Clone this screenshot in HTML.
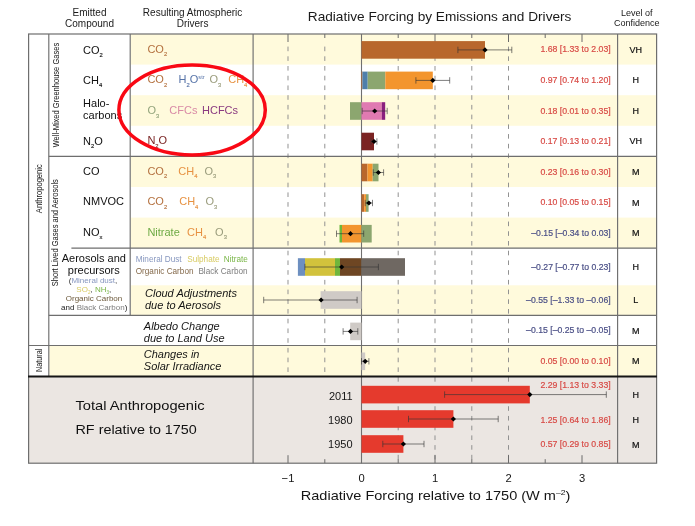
<!DOCTYPE html>
<html><head><meta charset="utf-8"><title>Radiative Forcing by Emissions and Drivers</title>
<style>
html,body{margin:0;padding:0;background:#fff;}
body{width:695px;height:526px;overflow:hidden;font-family:"Liberation Sans",sans-serif;}
svg{display:block;font-family:"Liberation Sans",sans-serif;will-change:transform;filter:blur(0.35px);}
</style></head><body>
<svg width="695" height="526" viewBox="0 0 695 526">
<rect x="0" y="0" width="695" height="526" fill="#ffffff"/>
<rect x="130.7" y="34.0" width="525.9000000000001" height="30.599999999999994" fill="#fffadc"/>
<rect x="130.7" y="95.2" width="525.9000000000001" height="30.599999999999994" fill="#fffadc"/>
<rect x="130.7" y="156.4" width="525.9000000000001" height="30.599999999999994" fill="#fffadc"/>
<rect x="130.7" y="217.6" width="525.9000000000001" height="30.5" fill="#fffadc"/>
<rect x="130.7" y="285.3" width="525.9000000000001" height="30.0" fill="#fffadc"/>
<rect x="49.3" y="345.5" width="607.3000000000001" height="30.69999999999999" fill="#fffadc"/>
<rect x="28.6" y="376.2" width="628.0" height="87.0" fill="#ebe6e2"/>
<line x1="288.0" y1="46.6" x2="288.0" y2="376.2" stroke="#8c8c8c" stroke-width="0.95" stroke-dasharray="4.6 5.12"/>
<line x1="324.8" y1="46.6" x2="324.8" y2="376.2" stroke="#8c8c8c" stroke-width="0.95" stroke-dasharray="4.6 5.12"/>
<line x1="398.2" y1="46.6" x2="398.2" y2="463.2" stroke="#8c8c8c" stroke-width="0.95" stroke-dasharray="4.6 5.12"/>
<line x1="435.0" y1="46.6" x2="435.0" y2="463.2" stroke="#8c8c8c" stroke-width="0.95" stroke-dasharray="4.6 5.12"/>
<line x1="471.8" y1="46.6" x2="471.8" y2="463.2" stroke="#8c8c8c" stroke-width="0.95" stroke-dasharray="4.6 5.12"/>
<line x1="508.5" y1="46.6" x2="508.5" y2="463.2" stroke="#8c8c8c" stroke-width="0.95" stroke-dasharray="4.6 5.12"/>
<line x1="288.0" y1="34.0" x2="288.0" y2="42.0" stroke="#6a6a6a" stroke-width="1"/>
<line x1="288.0" y1="455.2" x2="288.0" y2="463.2" stroke="#6a6a6a" stroke-width="1"/>
<line x1="324.8" y1="34.0" x2="324.8" y2="38.0" stroke="#6a6a6a" stroke-width="1"/>
<line x1="324.8" y1="459.2" x2="324.8" y2="463.2" stroke="#6a6a6a" stroke-width="1"/>
<line x1="361.5" y1="34.0" x2="361.5" y2="42.0" stroke="#6a6a6a" stroke-width="1"/>
<line x1="361.5" y1="455.2" x2="361.5" y2="463.2" stroke="#6a6a6a" stroke-width="1"/>
<line x1="398.2" y1="34.0" x2="398.2" y2="38.0" stroke="#6a6a6a" stroke-width="1"/>
<line x1="398.2" y1="459.2" x2="398.2" y2="463.2" stroke="#6a6a6a" stroke-width="1"/>
<line x1="435.0" y1="34.0" x2="435.0" y2="42.0" stroke="#6a6a6a" stroke-width="1"/>
<line x1="435.0" y1="455.2" x2="435.0" y2="463.2" stroke="#6a6a6a" stroke-width="1"/>
<line x1="471.8" y1="34.0" x2="471.8" y2="38.0" stroke="#6a6a6a" stroke-width="1"/>
<line x1="471.8" y1="459.2" x2="471.8" y2="463.2" stroke="#6a6a6a" stroke-width="1"/>
<line x1="508.5" y1="34.0" x2="508.5" y2="42.0" stroke="#6a6a6a" stroke-width="1"/>
<line x1="508.5" y1="455.2" x2="508.5" y2="463.2" stroke="#6a6a6a" stroke-width="1"/>
<line x1="545.2" y1="34.0" x2="545.2" y2="38.0" stroke="#6a6a6a" stroke-width="1"/>
<line x1="545.2" y1="459.2" x2="545.2" y2="463.2" stroke="#6a6a6a" stroke-width="1"/>
<line x1="582.0" y1="34.0" x2="582.0" y2="42.0" stroke="#6a6a6a" stroke-width="1"/>
<line x1="582.0" y1="455.2" x2="582.0" y2="463.2" stroke="#6a6a6a" stroke-width="1"/>
<line x1="361.5" y1="34.0" x2="361.5" y2="463.2" stroke="#707070" stroke-width="1.1"/>
<rect x="361.5" y="41.1" width="123.5" height="17.6" fill="#b8672c"/>
<rect x="361.5" y="71.6" width="0.9" height="17.6" fill="#b8672c"/>
<rect x="362.4" y="71.6" width="5.3" height="17.6" fill="#4e7fab"/>
<rect x="367.7" y="71.6" width="17.6" height="17.6" fill="#8ca66f"/>
<rect x="385.3" y="71.6" width="47.5" height="17.6" fill="#f3952e"/>
<rect x="350.0" y="102.2" width="11.5" height="17.6" fill="#8ca66f"/>
<rect x="361.5" y="102.2" width="20.3" height="17.6" fill="#e07ab2"/>
<rect x="381.8" y="102.2" width="3.4" height="17.6" fill="#8a1f7e"/>
<rect x="361.5" y="132.7" width="12.5" height="17.6" fill="#7b2322"/>
<rect x="361.5" y="163.7" width="6.0" height="17.6" fill="#b8672c"/>
<rect x="367.5" y="163.7" width="5.2" height="17.6" fill="#f3952e"/>
<rect x="372.7" y="163.7" width="5.8" height="17.6" fill="#8ca66f"/>
<rect x="361.5" y="194.2" width="2.7" height="17.6" fill="#b8672c"/>
<rect x="364.2" y="194.2" width="1.8" height="17.6" fill="#f3952e"/>
<rect x="366.0" y="194.2" width="2.6" height="17.6" fill="#8ca66f"/>
<rect x="339.5" y="224.9" width="2.5" height="17.6" fill="#6fb63c"/>
<rect x="342.0" y="224.9" width="19.5" height="17.6" fill="#f3952e"/>
<rect x="361.5" y="224.9" width="10.2" height="17.6" fill="#8ca66f"/>
<rect x="297.9" y="258.2" width="7.1" height="17.6" fill="#6d8fc0"/>
<rect x="305.0" y="258.2" width="30.0" height="17.6" fill="#d2c23c"/>
<rect x="335.0" y="258.2" width="5.0" height="17.6" fill="#6fb63c"/>
<rect x="340.0" y="258.2" width="21.5" height="17.6" fill="#6e4623"/>
<rect x="361.5" y="258.2" width="43.5" height="17.6" fill="#6f6862"/>
<rect x="320.6" y="291.2" width="40.9" height="17.6" fill="#cfcac6"/>
<rect x="350.2" y="322.6" width="11.3" height="17.6" fill="#cfcac6"/>
<rect x="361.5" y="352.5" width="3.7" height="17.6" fill="#cfcac6"/>
<rect x="361.5" y="385.8" width="168.3" height="17.6" fill="#e53a2d"/>
<rect x="361.5" y="410.2" width="91.9" height="17.6" fill="#e53a2d"/>
<rect x="361.5" y="435.2" width="41.9" height="17.6" fill="#e53a2d"/>
<line x1="48.8" y1="34.0" x2="48.8" y2="376.2" stroke="#6e6e6e" stroke-width="1.15"/>
<line x1="130.2" y1="34.0" x2="130.2" y2="315.3" stroke="#6e6e6e" stroke-width="1.15"/>
<line x1="253.1" y1="34.0" x2="253.1" y2="463.2" stroke="#6e6e6e" stroke-width="1.15"/>
<line x1="617.6" y1="34.0" x2="617.6" y2="463.2" stroke="#6e6e6e" stroke-width="1.15"/>
<line x1="48.8" y1="156.4" x2="656.6" y2="156.4" stroke="#6e6e6e" stroke-width="1.15"/>
<line x1="71.4" y1="248.1" x2="656.6" y2="248.1" stroke="#6e6e6e" stroke-width="1.15"/>
<line x1="48.8" y1="315.3" x2="656.6" y2="315.3" stroke="#6e6e6e" stroke-width="1.15"/>
<line x1="28.6" y1="345.5" x2="656.6" y2="345.5" stroke="#6e6e6e" stroke-width="1.15"/>
<rect x="28.6" y="34.0" width="628.0" height="429.2" fill="none" stroke="#6e6e6e" stroke-width="1.2"/>
<line x1="28.0" y1="376.5" x2="656.9" y2="376.5" stroke="#151515" stroke-width="2.0"/>
<g stroke="#333" stroke-opacity="0.7" stroke-width="0.9" fill="none"><line x1="457.9" y1="49.9" x2="511.8" y2="49.9"/><line x1="457.9" y1="46.699999999999996" x2="457.9" y2="53.1"/><line x1="511.8" y1="46.699999999999996" x2="511.8" y2="53.1"/></g>
<path d="M482.4 49.9 L485.0 47.3 L487.6 49.9 L485.0 52.5Z" fill="#000"/>
<g stroke="#333" stroke-opacity="0.7" stroke-width="0.9" fill="none"><line x1="415.9" y1="80.4" x2="449.7" y2="80.4"/><line x1="415.9" y1="77.2" x2="415.9" y2="83.60000000000001"/><line x1="449.7" y1="77.2" x2="449.7" y2="83.60000000000001"/></g>
<path d="M430.2 80.4 L432.8 77.80000000000001 L435.4 80.4 L432.8 83.0Z" fill="#000"/>
<g stroke="#333" stroke-opacity="0.7" stroke-width="0.9" fill="none"><line x1="362.2" y1="111.0" x2="387.2" y2="111.0"/><line x1="362.2" y1="107.8" x2="362.2" y2="114.2"/><line x1="387.2" y1="107.8" x2="387.2" y2="114.2"/></g>
<path d="M372.1 111.0 L374.7 108.4 L377.3 111.0 L374.7 113.6Z" fill="#000"/>
<g stroke="#333" stroke-opacity="0.7" stroke-width="0.9" fill="none"><line x1="371.1" y1="141.5" x2="376.9" y2="141.5"/><line x1="371.1" y1="138.3" x2="371.1" y2="144.7"/><line x1="376.9" y1="138.3" x2="376.9" y2="144.7"/></g>
<path d="M371.4 141.5 L374.0 138.9 L376.6 141.5 L374.0 144.1Z" fill="#000"/>
<g stroke="#333" stroke-opacity="0.7" stroke-width="0.9" fill="none"><line x1="373.3" y1="172.5" x2="383.6" y2="172.5"/><line x1="373.3" y1="169.3" x2="373.3" y2="175.7"/><line x1="383.6" y1="169.3" x2="383.6" y2="175.7"/></g>
<path d="M375.8 172.5 L378.4 169.9 L381.0 172.5 L378.4 175.1Z" fill="#000"/>
<g stroke="#333" stroke-opacity="0.7" stroke-width="0.9" fill="none"><line x1="365.2" y1="203.0" x2="372.5" y2="203.0"/><line x1="365.2" y1="199.8" x2="365.2" y2="206.2"/><line x1="372.5" y1="199.8" x2="372.5" y2="206.2"/></g>
<path d="M366.2 203.0 L368.9 200.4 L371.5 203.0 L368.9 205.6Z" fill="#000"/>
<g stroke="#333" stroke-opacity="0.7" stroke-width="0.9" fill="none"><line x1="336.5" y1="233.7" x2="363.7" y2="233.7"/><line x1="336.5" y1="230.5" x2="336.5" y2="236.89999999999998"/><line x1="363.7" y1="230.5" x2="363.7" y2="236.89999999999998"/></g>
<path d="M347.9 233.7 L350.5 231.1 L353.1 233.7 L350.5 236.29999999999998Z" fill="#000"/>
<g stroke="#333" stroke-opacity="0.7" stroke-width="0.9" fill="none"><line x1="304.9" y1="267.0" x2="378.4" y2="267.0"/><line x1="304.9" y1="263.8" x2="304.9" y2="270.2"/><line x1="378.4" y1="263.8" x2="378.4" y2="270.2"/></g>
<path d="M339.1 267.0 L341.7 264.4 L344.3 267.0 L341.7 269.6Z" fill="#000"/>
<g stroke="#333" stroke-opacity="0.7" stroke-width="0.9" fill="none"><line x1="263.7" y1="300.0" x2="357.1" y2="300.0"/><line x1="263.7" y1="296.8" x2="263.7" y2="303.2"/><line x1="357.1" y1="296.8" x2="357.1" y2="303.2"/></g>
<path d="M318.5 300.0 L321.1 297.4 L323.7 300.0 L321.1 302.6Z" fill="#000"/>
<g stroke="#333" stroke-opacity="0.7" stroke-width="0.9" fill="none"><line x1="343.1" y1="331.4" x2="357.8" y2="331.4"/><line x1="343.1" y1="328.2" x2="343.1" y2="334.59999999999997"/><line x1="357.8" y1="328.2" x2="357.8" y2="334.59999999999997"/></g>
<path d="M347.9 331.4 L350.5 328.79999999999995 L353.1 331.4 L350.5 334.0Z" fill="#000"/>
<g stroke="#333" stroke-opacity="0.7" stroke-width="0.9" fill="none"><line x1="361.5" y1="361.3" x2="368.9" y2="361.3"/><line x1="361.5" y1="358.1" x2="361.5" y2="364.5"/><line x1="368.9" y1="358.1" x2="368.9" y2="364.5"/></g>
<path d="M362.6 361.3 L365.2 358.7 L367.8 361.3 L365.2 363.90000000000003Z" fill="#000"/>
<g stroke="#333" stroke-opacity="0.7" stroke-width="0.9" fill="none"><line x1="444.6" y1="394.6" x2="606.3" y2="394.6"/><line x1="444.6" y1="391.40000000000003" x2="444.6" y2="397.8"/><line x1="606.3" y1="391.40000000000003" x2="606.3" y2="397.8"/></g>
<path d="M527.2 394.6 L529.8 392.0 L532.4 394.6 L529.8 397.20000000000005Z" fill="#000"/>
<g stroke="#333" stroke-opacity="0.7" stroke-width="0.9" fill="none"><line x1="408.5" y1="419.0" x2="498.2" y2="419.0"/><line x1="408.5" y1="415.8" x2="408.5" y2="422.2"/><line x1="498.2" y1="415.8" x2="498.2" y2="422.2"/></g>
<path d="M450.8 419.0 L453.4 416.4 L456.0 419.0 L453.4 421.6Z" fill="#000"/>
<g stroke="#333" stroke-opacity="0.7" stroke-width="0.9" fill="none"><line x1="382.8" y1="444.0" x2="424.0" y2="444.0"/><line x1="382.8" y1="440.8" x2="382.8" y2="447.2"/><line x1="424.0" y1="440.8" x2="424.0" y2="447.2"/></g>
<path d="M400.8 444.0 L403.4 441.4 L406.0 444.0 L403.4 446.6Z" fill="#000"/>
<text x="89.5" y="16.2" font-size="10" fill="#1a1a1a" text-anchor="middle" stroke="#1a1a1a" stroke-width="0" >Emitted</text>
<text x="89.5" y="26.9" font-size="10" fill="#1a1a1a" text-anchor="middle" stroke="#1a1a1a" stroke-width="0" >Compound</text>
<text x="192.6" y="16.2" font-size="10" fill="#1a1a1a" text-anchor="middle" stroke="#1a1a1a" stroke-width="0" >Resulting Atmospheric</text>
<text x="192.6" y="26.9" font-size="10" fill="#1a1a1a" text-anchor="middle" stroke="#1a1a1a" stroke-width="0" >Drivers</text>
<text x="439.6" y="21.4" font-size="13.4" fill="#1a1a1a" text-anchor="middle" stroke="#1a1a1a" stroke-width="0" textLength="263.6" lengthAdjust="spacingAndGlyphs">Radiative Forcing by Emissions and Drivers</text>
<text x="636.7" y="15.8" font-size="9" fill="#1a1a1a" text-anchor="middle" stroke="#1a1a1a" stroke-width="0" >Level of</text>
<text x="636.7" y="25.9" font-size="9" fill="#1a1a1a" text-anchor="middle" stroke="#1a1a1a" stroke-width="0" >Confidence</text>
<text x="83.1" y="53.7" font-size="11" fill="#111" text-anchor="start" stroke="#111" stroke-width="0" >CO<tspan font-size="5.8" dy="3.2" stroke-width="0.15">2</tspan><tspan dy="-3.2" font-size="1">&#8203;</tspan></text>
<text x="83.1" y="84.2" font-size="11" fill="#111" text-anchor="start" stroke="#111" stroke-width="0" >CH<tspan font-size="5.8" dy="3.2" stroke-width="0.15">4</tspan><tspan dy="-3.2" font-size="1">&#8203;</tspan></text>
<text x="83.1" y="107.4" font-size="11" fill="#111" text-anchor="start" stroke="#111" stroke-width="0" >Halo-</text>
<text x="83.1" y="119.4" font-size="11" fill="#111" text-anchor="start" stroke="#111" stroke-width="0" >carbons</text>
<text x="83.1" y="145.0" font-size="11" fill="#111" text-anchor="start" stroke="#111" stroke-width="0" >N<tspan font-size="5.8" dy="3.2" stroke-width="0.15">2</tspan><tspan dy="-3.2" font-size="1">&#8203;</tspan>O</text>
<text x="83.1" y="174.7" font-size="11" fill="#111" text-anchor="start" stroke="#111" stroke-width="0" >CO</text>
<text x="83.1" y="205.1" font-size="11" fill="#111" text-anchor="start" stroke="#111" stroke-width="0" >NMVOC</text>
<text x="83.1" y="235.7" font-size="11" fill="#111" text-anchor="start" stroke="#111" stroke-width="0" >NO<tspan font-size="5.8" dy="3.2" stroke-width="0.15">x</tspan><tspan dy="-3.2" font-size="1">&#8203;</tspan></text>
<text x="147.4" y="52.9" font-size="11" fill="#b4713f" text-anchor="start" stroke="#b4713f" stroke-width="0" >CO<tspan font-size="5.8" dy="3.2" stroke-width="0.15">2</tspan><tspan dy="-3.2" font-size="1">&#8203;</tspan></text>
<text x="147.4" y="83.4" font-size="11" fill="#b4713f" text-anchor="start" stroke="#b4713f" stroke-width="0" >CO<tspan font-size="5.8" dy="3.2" stroke-width="0.15">2</tspan><tspan dy="-3.2" font-size="1">&#8203;</tspan></text>
<text x="178.6" y="83.4" font-size="11" fill="#5673a8" text-anchor="start" stroke="#5673a8" stroke-width="0" >H<tspan font-size="5.8" dy="3.2" stroke-width="0.15">2</tspan><tspan dy="-3.2" font-size="1">&#8203;</tspan>O<tspan font-size="5.6" dy="-4">str</tspan><tspan dy="4" font-size="1">&#8203;</tspan></text>
<text x="209.5" y="83.4" font-size="11" fill="#9a9c7c" text-anchor="start" stroke="#9a9c7c" stroke-width="0" >O<tspan font-size="5.8" dy="3.2" stroke-width="0.15">3</tspan><tspan dy="-3.2" font-size="1">&#8203;</tspan></text>
<text x="228.2" y="83.4" font-size="11" fill="#e79242" text-anchor="start" stroke="#e79242" stroke-width="0" >CH<tspan font-size="5.8" dy="3.2" stroke-width="0.15">4</tspan><tspan dy="-3.2" font-size="1">&#8203;</tspan></text>
<text x="147.4" y="114.3" font-size="11" fill="#93a47c" text-anchor="start" stroke="#93a47c" stroke-width="0" >O<tspan font-size="5.8" dy="3.2" stroke-width="0.15">3</tspan><tspan dy="-3.2" font-size="1">&#8203;</tspan></text>
<text x="169.3" y="114.3" font-size="11" fill="#d98aa6" text-anchor="start" stroke="#d98aa6" stroke-width="0" >CFCs</text>
<text x="202.0" y="114.3" font-size="11" fill="#8a3a80" text-anchor="start" stroke="#8a3a80" stroke-width="0" >HCFCs</text>
<text x="147.4" y="144.4" font-size="11" fill="#7a2424" text-anchor="start" stroke="#7a2424" stroke-width="0" >N<tspan font-size="5.8" dy="3.2" stroke-width="0.15">2</tspan><tspan dy="-3.2" font-size="1">&#8203;</tspan>O</text>
<text x="147.4" y="175.0" font-size="11" fill="#b4713f" text-anchor="start" stroke="#b4713f" stroke-width="0" >CO<tspan font-size="5.8" dy="3.2" stroke-width="0.15">2</tspan><tspan dy="-3.2" font-size="1">&#8203;</tspan></text>
<text x="178.3" y="175.0" font-size="11" fill="#e79242" text-anchor="start" stroke="#e79242" stroke-width="0" >CH<tspan font-size="5.8" dy="3.2" stroke-width="0.15">4</tspan><tspan dy="-3.2" font-size="1">&#8203;</tspan></text>
<text x="204.4" y="175.0" font-size="11" fill="#9a9c7c" text-anchor="start" stroke="#9a9c7c" stroke-width="0" >O<tspan font-size="5.8" dy="3.2" stroke-width="0.15">3</tspan><tspan dy="-3.2" font-size="1">&#8203;</tspan></text>
<text x="147.4" y="205.4" font-size="11" fill="#b4713f" text-anchor="start" stroke="#b4713f" stroke-width="0" >CO<tspan font-size="5.8" dy="3.2" stroke-width="0.15">2</tspan><tspan dy="-3.2" font-size="1">&#8203;</tspan></text>
<text x="179.2" y="205.4" font-size="11" fill="#e79242" text-anchor="start" stroke="#e79242" stroke-width="0" >CH<tspan font-size="5.8" dy="3.2" stroke-width="0.15">4</tspan><tspan dy="-3.2" font-size="1">&#8203;</tspan></text>
<text x="205.4" y="205.4" font-size="11" fill="#9a9c7c" text-anchor="start" stroke="#9a9c7c" stroke-width="0" >O<tspan font-size="5.8" dy="3.2" stroke-width="0.15">3</tspan><tspan dy="-3.2" font-size="1">&#8203;</tspan></text>
<text x="147.4" y="235.9" font-size="11" fill="#6eaa44" text-anchor="start" stroke="#6eaa44" stroke-width="0" >Nitrate</text>
<text x="187.0" y="235.9" font-size="11" fill="#e79242" text-anchor="start" stroke="#e79242" stroke-width="0" >CH<tspan font-size="5.8" dy="3.2" stroke-width="0.15">4</tspan><tspan dy="-3.2" font-size="1">&#8203;</tspan></text>
<text x="215.1" y="235.9" font-size="11" fill="#9a9c7c" text-anchor="start" stroke="#9a9c7c" stroke-width="0" >O<tspan font-size="5.8" dy="3.2" stroke-width="0.15">3</tspan><tspan dy="-3.2" font-size="1">&#8203;</tspan></text>
<text x="135.7" y="262.1" font-size="8.2" fill="#8797bf" text-anchor="start" stroke="#8797bf" stroke-width="0" >Mineral Dust</text>
<text x="187.2" y="262.1" font-size="8.2" fill="#d8cb62" text-anchor="start" stroke="#d8cb62" stroke-width="0" >Sulphate</text>
<text x="223.7" y="262.1" font-size="8.2" fill="#7ab648" text-anchor="start" stroke="#7ab648" stroke-width="0" >Nitrate</text>
<text x="135.7" y="273.7" font-size="8.2" fill="#84694a" text-anchor="start" stroke="#84694a" stroke-width="0" >Organic Carbon</text>
<text x="198.4" y="273.7" font-size="8.2" fill="#7d7d7d" text-anchor="start" stroke="#7d7d7d" stroke-width="0" >Black Carbon</text>
<text x="145.0" y="296.6" font-size="11" fill="#151515" text-anchor="start" stroke="#151515" stroke-width="0" font-style="italic">Cloud Adjustments</text>
<text x="145.0" y="308.6" font-size="11" fill="#151515" text-anchor="start" stroke="#151515" stroke-width="0" font-style="italic">due to Aerosols</text>
<text x="143.8" y="329.5" font-size="11" fill="#151515" text-anchor="start" stroke="#151515" stroke-width="0" font-style="italic">Albedo Change</text>
<text x="143.8" y="341.6" font-size="11" fill="#151515" text-anchor="start" stroke="#151515" stroke-width="0" font-style="italic">due to Land Use</text>
<text x="143.8" y="358.3" font-size="11" fill="#151515" text-anchor="start" stroke="#151515" stroke-width="0" font-style="italic">Changes in</text>
<text x="143.8" y="370.3" font-size="11" fill="#151515" text-anchor="start" stroke="#151515" stroke-width="0" font-style="italic">Solar Irradiance</text>
<text x="93.8" y="262.4" font-size="11" fill="#111" text-anchor="middle" stroke="#111" stroke-width="0" >Aerosols and</text>
<text x="93.8" y="274.2" font-size="11" fill="#111" text-anchor="middle" stroke="#111" stroke-width="0" >precursors</text>
<text x="93.0" y="282.8" font-size="8" text-anchor="middle" fill="#333">(<tspan fill="#8797bf">Mineral dust</tspan>,</text>
<text x="93.8" y="291.8" font-size="8" text-anchor="middle" fill="#333"><tspan fill="#d8cb62">SO<tspan font-size="4.6" dy="2.0" stroke-width="0.15">2</tspan><tspan dy="-2.0" font-size="1">&#8203;</tspan></tspan>, <tspan fill="#7ab648">NH<tspan font-size="4.6" dy="2.0" stroke-width="0.15">3</tspan><tspan dy="-2.0" font-size="1">&#8203;</tspan></tspan>,</text>
<text x="94.0" y="300.6" font-size="8" fill="#6b583a" text-anchor="middle" stroke="#6b583a" stroke-width="0" >Organic Carbon</text>
<text x="94.2" y="309.5" font-size="8" text-anchor="middle" fill="#222">and <tspan fill="#7d7d7d">Black Carbon</tspan>)</text>
<text transform="translate(58.5,95.1) rotate(-90)" font-size="8.4" text-anchor="middle" fill="#151515" textLength="104.5" lengthAdjust="spacingAndGlyphs">Well-Mixed Greenhouse Gases</text>
<text transform="translate(58.4,232.7) rotate(-90)" font-size="8.4" text-anchor="middle" fill="#151515" textLength="107" lengthAdjust="spacingAndGlyphs">Short Lived Gases and Aerosols</text>
<text transform="translate(42.2,188.7) rotate(-90)" font-size="8.2" text-anchor="middle" fill="#151515" textLength="48.9" lengthAdjust="spacingAndGlyphs">Anthropogenic</text>
<text transform="translate(41.8,360.3) rotate(-90)" font-size="8.2" text-anchor="middle" fill="#151515" textLength="23.2" lengthAdjust="spacingAndGlyphs">Natural</text>
<text x="75.5" y="410.1" font-size="13.5" fill="#111" text-anchor="start" stroke="#111" stroke-width="0" textLength="129" lengthAdjust="spacingAndGlyphs">Total Anthropogenic</text>
<text x="75.5" y="433.7" font-size="13.5" fill="#111" text-anchor="start" stroke="#111" stroke-width="0" textLength="121.3" lengthAdjust="spacingAndGlyphs">RF relative to 1750</text>
<text x="352.6" y="400.2" font-size="11" fill="#151515" text-anchor="end" stroke="#151515" stroke-width="0" >2011</text>
<text x="352.6" y="423.8" font-size="11" fill="#151515" text-anchor="end" stroke="#151515" stroke-width="0" >1980</text>
<text x="352.6" y="447.7" font-size="11" fill="#151515" text-anchor="end" stroke="#151515" stroke-width="0" >1950</text>
<text x="540.4" y="52.3" font-size="8.4" fill="#d84a45" text-anchor="start"  stroke="#d84a45" stroke-width="0.18" textLength="70.3" lengthAdjust="spacingAndGlyphs">1.68 [1.33 to 2.03]</text>
<text x="540.4" y="82.9" font-size="8.4" fill="#d84a45" text-anchor="start"  stroke="#d84a45" stroke-width="0.18" textLength="70.3" lengthAdjust="spacingAndGlyphs">0.97 [0.74 to 1.20]</text>
<text x="540.4" y="113.5" font-size="8.4" fill="#d84a45" text-anchor="start"  stroke="#d84a45" stroke-width="0.18" textLength="70.3" lengthAdjust="spacingAndGlyphs">0.18 [0.01 to 0.35]</text>
<text x="540.4" y="144.1" font-size="8.4" fill="#d84a45" text-anchor="start"  stroke="#d84a45" stroke-width="0.18" textLength="70.3" lengthAdjust="spacingAndGlyphs">0.17 [0.13 to 0.21]</text>
<text x="540.4" y="174.7" font-size="8.4" fill="#d84a45" text-anchor="start"  stroke="#d84a45" stroke-width="0.18" textLength="70.3" lengthAdjust="spacingAndGlyphs">0.23 [0.16 to 0.30]</text>
<text x="540.4" y="205.3" font-size="8.4" fill="#d84a45" text-anchor="start"  stroke="#d84a45" stroke-width="0.18" textLength="70.3" lengthAdjust="spacingAndGlyphs">0.10 [0.05 to 0.15]</text>
<text x="531.3" y="235.8" font-size="8.4" fill="#4a4f86" text-anchor="start"  stroke="#4a4f86" stroke-width="0.18" textLength="79.4" lengthAdjust="spacingAndGlyphs">&#8211;0.15 [&#8211;0.34 to 0.03]</text>
<text x="531.3" y="269.7" font-size="8.4" fill="#4a4f86" text-anchor="start"  stroke="#4a4f86" stroke-width="0.18" textLength="79.4" lengthAdjust="spacingAndGlyphs">&#8211;0.27 [&#8211;0.77 to 0.23]</text>
<text x="526.1" y="302.5" font-size="8.4" fill="#4a4f86" text-anchor="start"  stroke="#4a4f86" stroke-width="0.18" textLength="84.6" lengthAdjust="spacingAndGlyphs">&#8211;0.55 [&#8211;1.33 to &#8211;0.06]</text>
<text x="526.1" y="333.4" font-size="8.4" fill="#4a4f86" text-anchor="start"  stroke="#4a4f86" stroke-width="0.18" textLength="84.6" lengthAdjust="spacingAndGlyphs">&#8211;0.15 [&#8211;0.25 to &#8211;0.05]</text>
<text x="540.4" y="363.9" font-size="8.4" fill="#d84a45" text-anchor="start"  stroke="#d84a45" stroke-width="0.18" textLength="70.3" lengthAdjust="spacingAndGlyphs">0.05 [0.00 to 0.10]</text>
<text x="540.4" y="388.4" font-size="8.4" fill="#d84a45" text-anchor="start"  stroke="#d84a45" stroke-width="0.18" textLength="70.3" lengthAdjust="spacingAndGlyphs">2.29 [1.13 to 3.33]</text>
<text x="540.4" y="422.9" font-size="8.4" fill="#d84a45" text-anchor="start"  stroke="#d84a45" stroke-width="0.18" textLength="70.3" lengthAdjust="spacingAndGlyphs">1.25 [0.64 to 1.86]</text>
<text x="540.4" y="447.4" font-size="8.4" fill="#d84a45" text-anchor="start"  stroke="#d84a45" stroke-width="0.18" textLength="70.3" lengthAdjust="spacingAndGlyphs">0.57 [0.29 to 0.85]</text>
<text x="635.7" y="52.5" font-size="9" fill="#111" text-anchor="middle"  stroke="#111" stroke-width="0.2">VH</text>
<text x="635.7" y="83.10000000000001" font-size="9" fill="#111" text-anchor="middle"  stroke="#111" stroke-width="0.2">H</text>
<text x="635.7" y="113.7" font-size="9" fill="#111" text-anchor="middle"  stroke="#111" stroke-width="0.2">H</text>
<text x="635.7" y="144.29999999999998" font-size="9" fill="#111" text-anchor="middle"  stroke="#111" stroke-width="0.2">VH</text>
<text x="635.7" y="174.89999999999998" font-size="9" fill="#111" text-anchor="middle"  stroke="#111" stroke-width="0.2">M</text>
<text x="635.7" y="205.5" font-size="9" fill="#111" text-anchor="middle"  stroke="#111" stroke-width="0.2">M</text>
<text x="635.7" y="236.0" font-size="9" fill="#111" text-anchor="middle"  stroke="#111" stroke-width="0.2">M</text>
<text x="635.7" y="269.9" font-size="9" fill="#111" text-anchor="middle"  stroke="#111" stroke-width="0.2">H</text>
<text x="635.7" y="302.7" font-size="9" fill="#111" text-anchor="middle"  stroke="#111" stroke-width="0.2">L</text>
<text x="635.7" y="333.59999999999997" font-size="9" fill="#111" text-anchor="middle"  stroke="#111" stroke-width="0.2">M</text>
<text x="635.7" y="364.09999999999997" font-size="9" fill="#111" text-anchor="middle"  stroke="#111" stroke-width="0.2">M</text>
<text x="635.7" y="398.4" font-size="9" fill="#111" text-anchor="middle"  stroke="#111" stroke-width="0.2">H</text>
<text x="635.7" y="423.09999999999997" font-size="9" fill="#111" text-anchor="middle"  stroke="#111" stroke-width="0.2">H</text>
<text x="635.7" y="447.59999999999997" font-size="9" fill="#111" text-anchor="middle"  stroke="#111" stroke-width="0.2">M</text>
<text x="288.0" y="481.6" font-size="11.2" fill="#151515" text-anchor="middle" stroke="#151515" stroke-width="0" >&#8722;1</text>
<text x="361.5" y="481.6" font-size="11.2" fill="#151515" text-anchor="middle" stroke="#151515" stroke-width="0" >0</text>
<text x="435.0" y="481.6" font-size="11.2" fill="#151515" text-anchor="middle" stroke="#151515" stroke-width="0" >1</text>
<text x="508.5" y="481.6" font-size="11.2" fill="#151515" text-anchor="middle" stroke="#151515" stroke-width="0" >2</text>
<text x="582.0" y="481.6" font-size="11.2" fill="#151515" text-anchor="middle" stroke="#151515" stroke-width="0" >3</text>
<text x="300.8" y="499.9" font-size="13.2" fill="#151515" textLength="269.6" lengthAdjust="spacingAndGlyphs">Radiative Forcing relative to 1750 (W m<tspan font-size="7.8" dy="-4.8">&#8211;2</tspan><tspan dy="4.8">)</tspan></text>
<ellipse cx="192.1" cy="110.0" rx="73.2" ry="45.0" fill="none" stroke="#f90814" stroke-width="3.5"/>
</svg>
</body></html>
